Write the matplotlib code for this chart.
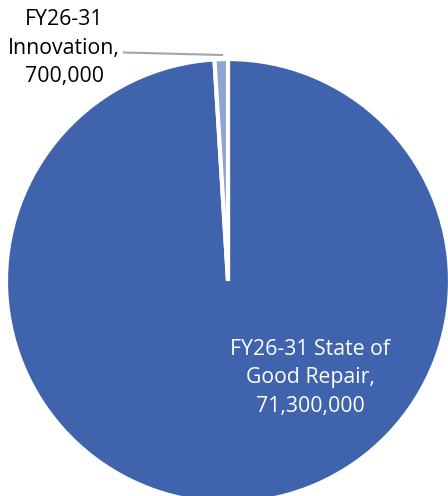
import matplotlib.pyplot as plt
import numpy as np

labels = ["FY26-31 State of\nGood Repair,\n71,300,000", "FY26-31\nInnovation,\n700,000"]
values = [71300000, 700000]
colors = ["#3F64AD", "#8FA3D6"]

W, H = 448, 496
cx, cy, r = 228, 281, 222  # pie centre and radius in pixels (from top-left)

plt.rcParams['font.family'] = ['Open Sans', 'DejaVu Sans']

fig = plt.figure(figsize=(W / 100, H / 100), dpi=100)
ax = fig.add_axes([(cx - r) / W, (H - cy - r) / H, 2 * r / W, 2 * r / H])

wedges, _ = ax.pie(values, colors=colors, startangle=90, counterclock=False,
                   radius=1, wedgeprops=dict(edgecolor='white', linewidth=3))
ax.set_xlim(-1, 1)
ax.set_ylim(-1, 1)
ax.set_aspect('auto')
ax.axis('off')


def px(x, y):
    return ((x - cx) / r, (cy - y) / r)


# big slice label inside
ax.text(*px(310, 378), labels[0], color='white', fontsize=15.3, ha='center', va='center',
        linespacing=1.45)

# small slice label outside with leader line
ax.text(*px(64, 48), labels[1], color='black', fontsize=15.3, ha='center', va='center',
        linespacing=1.45, clip_on=False)
x0, y0 = px(124, 52.5)
x1, y1 = px(222, 55)
ax.plot([x0, x1], [y0, y1], color='#A5A5A5', linewidth=1.5, clip_on=False)

fig.savefig('out.png', dpi=100, facecolor='white')
